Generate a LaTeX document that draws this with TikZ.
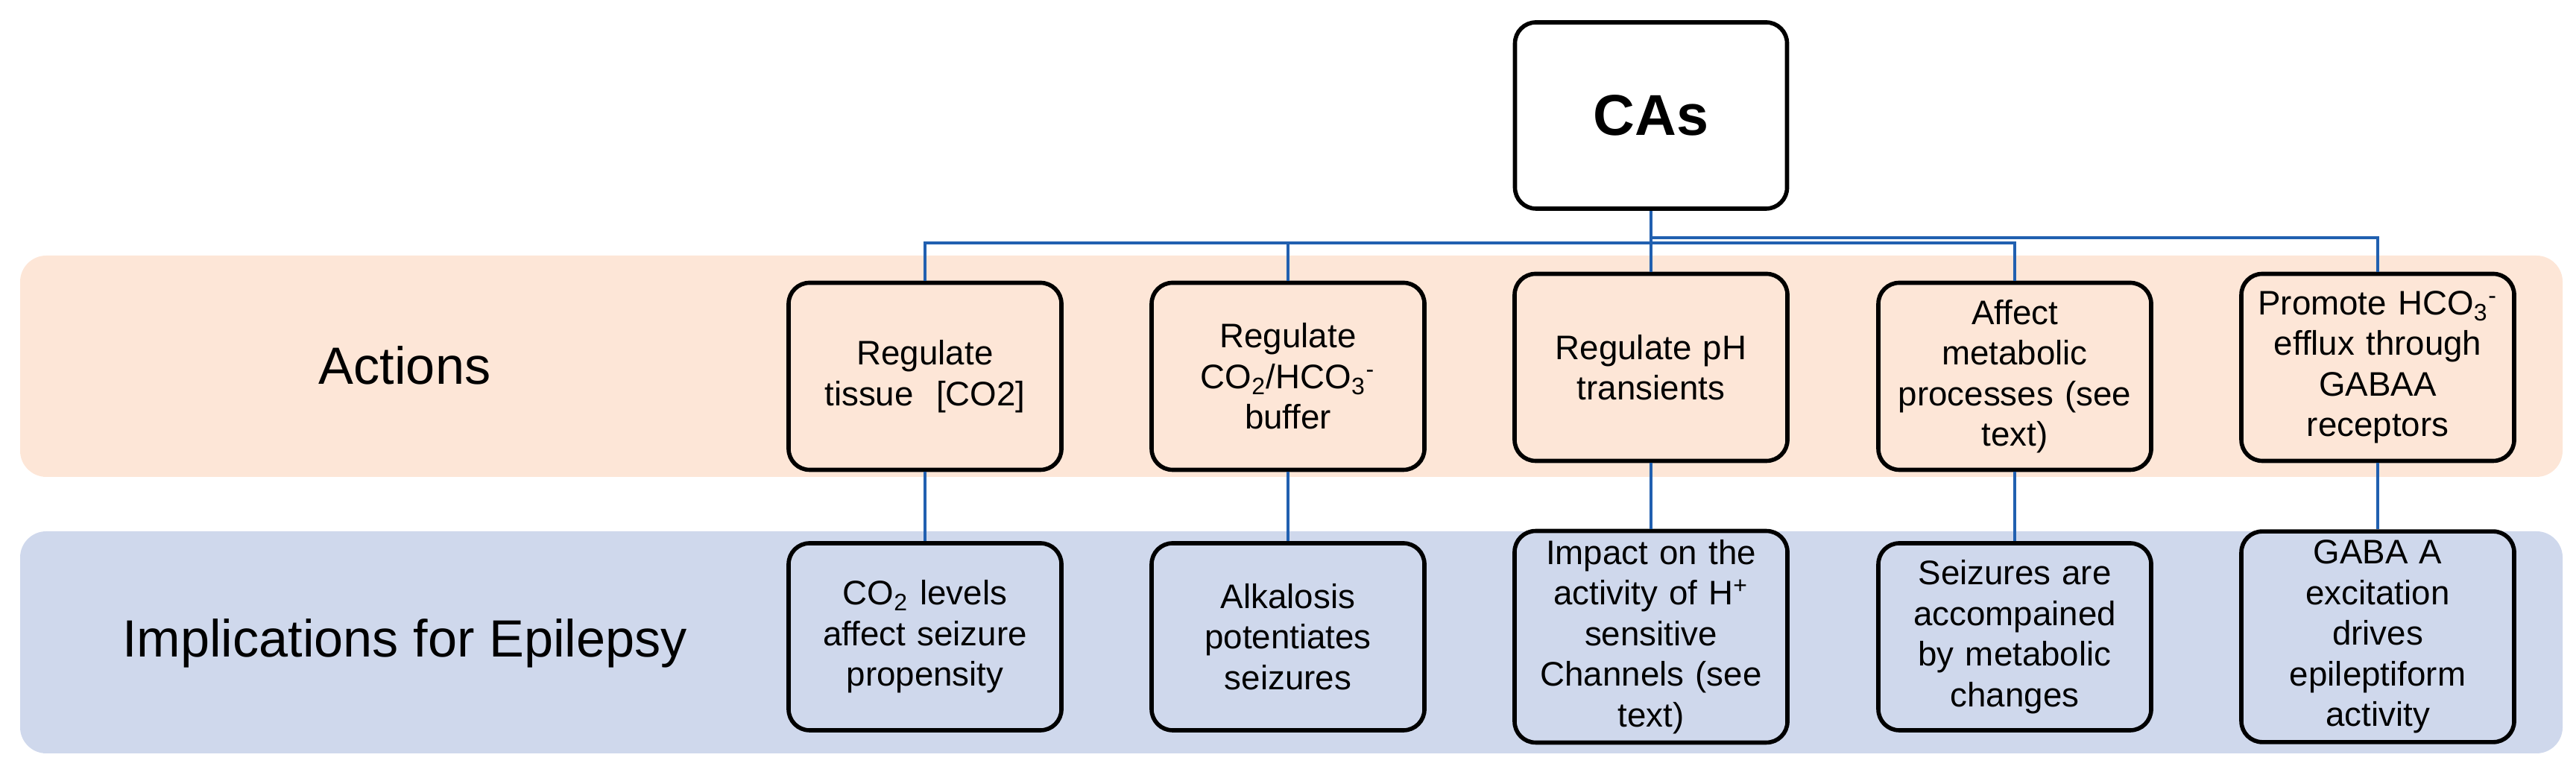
\documentclass[tikz,border=0pt]{standalone}
\usepackage{fontspec}
\setmainfont{Liberation Sans}
\usetikzlibrary{positioning}
\definecolor{peach}{RGB}{253,230,215}
\definecolor{lavender}{RGB}{207,216,236}
\definecolor{linkblue}{RGB}{33,96,176}
\begin{document}
\begin{tikzpicture}[
box/.style={draw,line width=1.6pt,rounded corners=8pt,minimum width=3.66cm,minimum height=2.51cm,text width=3.3cm,align=center,font=\fontsize{13}{15.5}\selectfont},
band/.style={rounded corners=10pt},
link/.style={draw=linkblue,line width=1.3pt}]
\useasboundingbox (0,0) rectangle (34.56,10.40);

\fill[band,fill=peach] (0.27,4.00) rectangle (34.38,6.97);
\fill[band,fill=lavender] (0.27,0.29) rectangle (34.38,3.27);

\node[draw,line width=1.6pt,rounded corners=8pt,minimum width=3.65cm,minimum height=2.5cm,font=\fontsize{22}{26}\selectfont\bfseries] (cas) at (22.15,8.85) {CAs};

\node[font=\fontsize{20}{24}\selectfont] (act) at (5.43,5.50) {Actions};
\node[font=\fontsize{20}{24}\selectfont] (impl) at (5.43,1.77) {Implications for Epilepsy};

\node[box,fill=peach] (a1) at (12.41,5.35) {Regulate\\tissue~~[CO2]};
\node[box,fill=peach] (a2) at (17.28,5.35) {Regulate\\CO\textsubscript{2}/HCO\textsubscript{3}\textsuperscript{-}\\buffer};
\node[box,fill=peach] (a3) at (22.15,5.47) {Regulate pH\\transients};
\node[box,fill=peach] (a4) at (27.03,5.35) {Affect\\metabolic\\processes (see\\text)};
\node[box,fill=peach] (a5) at (31.90,5.47) {Promote HCO\textsubscript{3}\textsuperscript{-}\\efflux through\\GABAA\\receptors};

\node[box,fill=lavender] (b1) at (12.41,1.855) {CO\textsubscript{2} levels\\affect seizure\\propensity};
\node[box,fill=lavender] (b2) at (17.28,1.855) {Alkalosis\\potentiates\\seizures};
\node[box,fill=lavender] (b3) at (22.15,1.855) {Impact on the\\activity of H\textsuperscript{+}\\sensitive\\Channels (see\\text)};
\node[box,fill=lavender] (b4) at (27.03,1.855) {Seizures are\\accompained\\by metabolic\\changes};
\node[box,fill=lavender] (b5) at (31.90,1.855) {GABA A\\excitation\\drives\\epileptiform\\activity};

% tree from CAs
\path[link] (cas.south) -- (a3.north);
\foreach \k in {a1,a2,a4}
  \path[link] (cas.south) -- ++(0,-0.43) -| (\k.north);
\path[link] (cas.south) -- ++(0,-0.36) -| (a5.north);

\foreach \k in {1,...,5}
  \path[link] (a\k.south) -- (b\k.north);
\end{tikzpicture}
\end{document}
